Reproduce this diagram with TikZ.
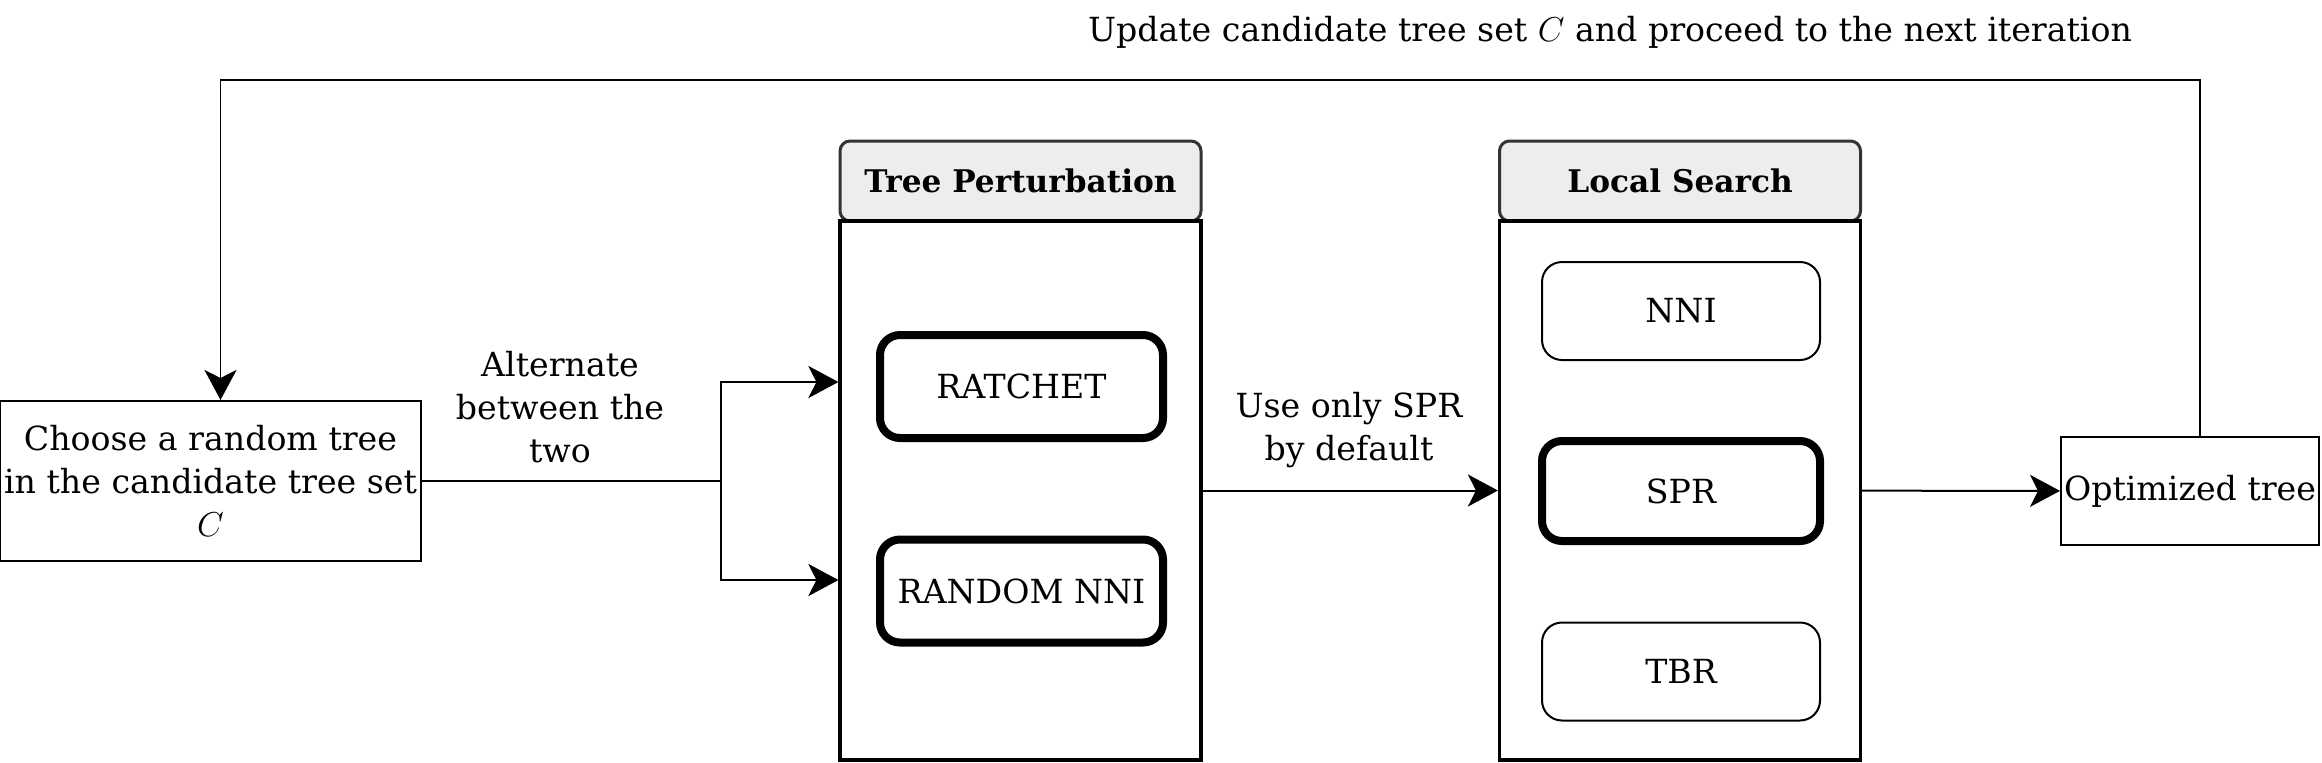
\documentclass[tikz,border=0pt]{standalone}
\usepackage{fontspec}
\setmainfont{DejaVu Serif}
\usetikzlibrary{arrows.meta,positioning}

\tikzset{
  txt/.style={align=center, inner sep=0pt, font=\fontsize{16.6}{21.5}\selectfont},
  plainbox/.style={txt, draw, line width=1pt},
  headbox/.style={txt, draw=black!80, line width=1.5pt, fill=black!7, rounded corners=5pt,
    minimum width=180.5pt, minimum height=40pt, font=\fontsize{15.6}{21}\selectfont\bfseries},
  bodybox/.style={draw, line width=1.6pt, minimum width=180.5pt, minimum height=269.5pt},
  boldop/.style={txt, draw, line width=4pt, rounded corners=10pt, minimum width=141.5pt, minimum height=51.5pt},
  thinop/.style={txt, draw, line width=1pt, rounded corners=10pt, minimum width=139pt, minimum height=49pt},
  flow/.style={line width=1pt, -{Stealth[length=15pt, width=16pt, inset=4pt]}},
  flowbold/.style={line width=1.4pt, -{Stealth[length=15pt, width=16pt, inset=4pt]}},
}

\begin{document}
\begin{tikzpicture}[x=0.5pt, y=-0.5pt]
    \useasboundingbox (0,0) rectangle (2322,762);

    % start box
    \node[plainbox, minimum width=210.5pt, minimum height=80pt] (choose) at (210.5,481)
        {Choose a random tree\\in the candidate tree set\\$C$};

    % tree perturbation
    \node[headbox] (pertHead) at (1020.5,181) {Tree Perturbation};
    \node[bodybox] (pertBody) at (1020.5,490.5) {};
    \node[boldop] (ratchet) at (1021.5,386.5) {RATCHET};
    \node[boldop] (randnni) at (1021.5,591) {RANDOM NNI};

    % local search
    \node[headbox] (localHead) at (1680,181) {Local Search};
    \node[bodybox] (localBody) at (1680,490.5) {};
    \node[thinop] (nni) at (1681,311) {NNI};
    \node[boldop, minimum width=139pt, minimum height=50pt] (spr) at (1681,491) {SPR};
    \node[thinop] (tbr) at (1681,671.5) {TBR};

    % result
    \node[plainbox, minimum width=129pt, minimum height=54pt] (opt) at (2190,491) {Optimized tree};

    % labels
    \node[txt] (loopLabel) at (1610,32) {Update candidate tree set $C$ and proceed to the next iteration};
    \node[txt] (altLabel) at (560,407) {Alternate\\between the\\two};
    \node[txt] (sprLabel) at (1349,430) {Use only SPR\\by default};

    % start to the two perturbations
    \coordinate (split) at (721,481);
    \draw[line width=1pt] (choose.east) -- (split);
    \draw[flowbold] (split) |- (pertBody.west |- 0,382);
    \draw[flowbold] (split) |- (pertBody.west |- 0,580);

    % perturbation to local search to result
    \draw[flow] (pertBody) -- (localBody);
    \draw[flow] (localBody) -- (opt);

    % back to the start
    \draw[flow, line width=0.9pt] ([xshift=5pt]opt.north) -- ++(0,-356) -| ([xshift=5pt]choose.north);
\end{tikzpicture}
\end{document}
